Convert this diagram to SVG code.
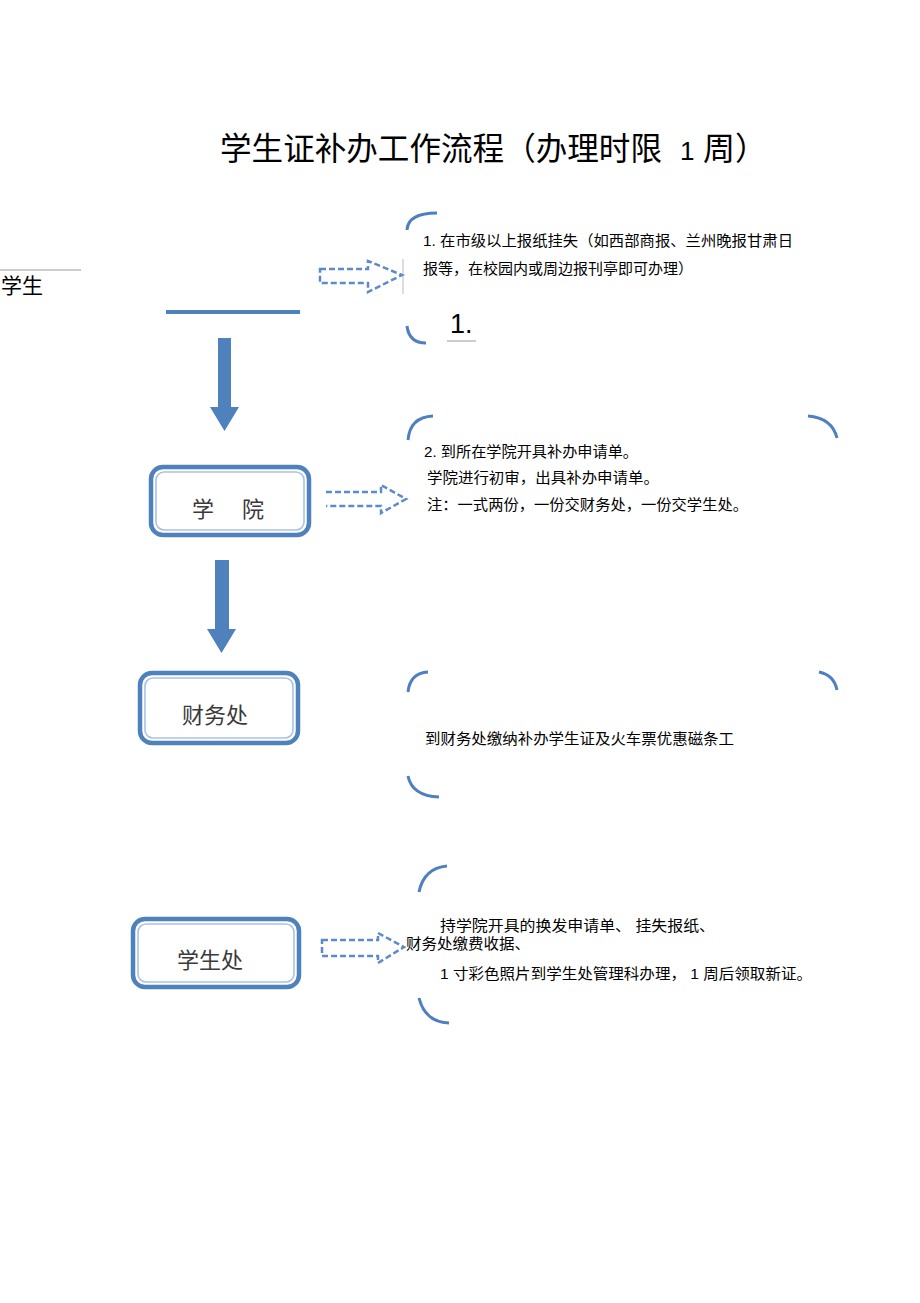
<svg xmlns="http://www.w3.org/2000/svg" width="920" height="1303" viewBox="0 0 920 1303">
<style>
text{font-family:"Liberation Sans","Noto Sans CJK SC",sans-serif;fill:#000}
.t{font-size:15px}
.lbl{font-size:22px;fill:#3a3a3a}
.box-o{fill:#fff;stroke:#4f81bd;stroke-width:4.5}
.box-i{fill:none;stroke:#a9c2e4;stroke-width:1.6}
.arc{fill:none;stroke:#4f7fc0;stroke-width:3;stroke-linecap:butt}
.dash{fill:#fff;stroke:#5b8bc8;stroke-width:2.5;stroke-dasharray:6 3}
.down{fill:#4f81bd}
</style>
<rect width="920" height="1303" fill="#fff"/>
<g id="title">
<text x="220" y="160" font-size="32" textLength="442" lengthAdjust="spacingAndGlyphs">学生证补办工作流程（办理时限</text>
<text x="680" y="160" font-size="26">1</text>
<text x="703" y="160" font-size="32">周）</text>
</g>

<g id="student">
<line x1="0" y1="270" x2="81" y2="270" stroke="#999" stroke-width="1"/>
<text x="1" y="293" font-size="21">学生</text>
<line x1="166" y1="312" x2="300" y2="312" stroke="#4f81bd" stroke-width="4"/>
</g>

<g id="college">
<rect class="box-o" x="151" y="467" width="158" height="68" rx="12"/>
<rect class="box-i" x="156" y="472" width="148" height="58" rx="8"/>
<text class="lbl" x="192" y="517">学</text>
<text class="lbl" x="242" y="517">院</text>
</g>

<g id="finance">
<rect class="box-o" x="140" y="673" width="158" height="70" rx="12"/>
<rect class="box-i" x="145" y="678" width="148" height="60" rx="8"/>
<text class="lbl" x="182" y="723">财务处</text>
</g>

<g id="student-office">
<rect class="box-o" x="133" y="919" width="166" height="68" rx="12"/>
<rect class="box-i" x="138" y="924" width="156" height="58" rx="8"/>
<text class="lbl" x="177" y="968">学生处</text>
</g>

<g id="note1">
<line x1="403" y1="259" x2="403" y2="294" stroke="#bbb" stroke-width="1"/>
<path class="arc" d="M407,230 Q408,213 437,213"/>
<path class="arc" d="M407,326 Q409,343 426,343"/>
<text class="t" x="423" y="246" textLength="370" lengthAdjust="spacingAndGlyphs">1. 在市级以上报纸挂失（如西部商报、兰州晚报甘肃日</text>
<text class="t" x="423" y="274" textLength="270" lengthAdjust="spacingAndGlyphs">报等，在校园内或周边报刊亭即可办理）</text>
<text x="450" y="333" font-size="27">1.</text>
<line x1="447" y1="341" x2="476" y2="341" stroke="#999" stroke-width="1"/>
</g>

<g id="note2">
<path class="arc" d="M408,440 Q410,417 433,416"/>
<path class="arc" d="M808,416 Q832,418 837,438"/>
<text class="t" x="424" y="457" textLength="214" lengthAdjust="spacingAndGlyphs">2. 到所在学院开具补办申请单。</text>
<text class="t" x="427" y="483" textLength="232" lengthAdjust="spacingAndGlyphs">学院进行初审，出具补办申请单。</text>
<text class="t" x="427" y="510" textLength="321" lengthAdjust="spacingAndGlyphs">注：一式两份，一份交财务处，一份交学生处。</text>
</g>

<g id="note3">
<path class="arc" d="M408,692 Q410,673 428,672"/>
<path class="arc" d="M819,672 Q834,675 837,690"/>
<path class="arc" d="M408,776 Q412,796 439,797"/>
<text class="t" x="425" y="744" textLength="309" lengthAdjust="spacingAndGlyphs">到财务处缴纳补办学生证及火车票优惠磁条工</text>
</g>

<g id="note4">
<path class="arc" d="M419,892 Q424,868 447,866"/>
<path class="arc" d="M419,998 Q425,1022 449,1023"/>
<text class="t" x="440" y="931" textLength="275" lengthAdjust="spacingAndGlyphs">持学院开具的换发申请单、 挂失报纸、</text>
<text class="t" x="406" y="949" textLength="124" lengthAdjust="spacingAndGlyphs">财务处缴费收据、</text>
<text class="t" x="440" y="979" textLength="372" lengthAdjust="spacingAndGlyphs">1 寸彩色照片到学生处管理科办理， 1 周后领取新证。</text>
</g>

<g id="connectors">
<polygon class="down" points="218,338 231,338 231,407 239,407 224.5,431 210,407 218,407"/>
<polygon class="down" points="215,560 229,560 229,629 236,629 221.5,653 207,629 215,629"/>
<polygon class="dash" points="320,269 368,269 368,261 402,275 368,292 368,283 320,283"/>
<path class="dash" d="M326,492 L381,492 L381,485 L406,499 L381,513 L381,506 L326,506"/>
<polygon class="dash" points="322,940 378,940 378,933 404,947 378,963 378,956 322,956"/>
</g>
</svg>
